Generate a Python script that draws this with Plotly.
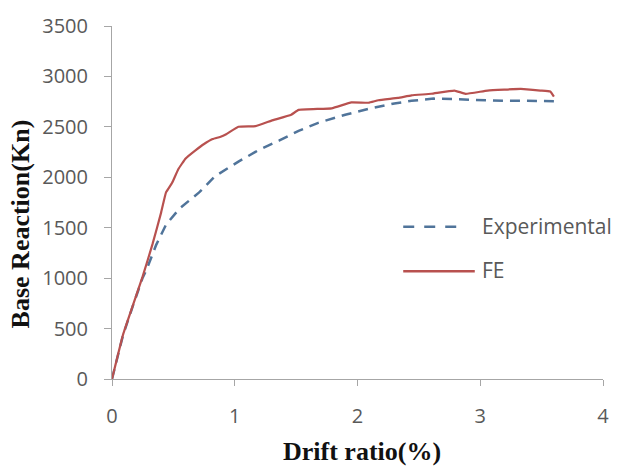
import plotly.graph_objects as go

# Drift ratio (%) vs base reaction (kN)
fe_drift = [0, 0.09, 0.17, 0.25, 0.33, 0.40, 0.44, 0.49, 0.54, 0.60, 0.68, 0.75, 0.82,
            0.88, 0.93, 1.03, 1.17, 1.30, 1.46, 1.52, 1.79, 1.95, 2.09, 2.17, 2.33, 2.44,
            2.60, 2.79, 2.88, 3.06, 3.33, 3.49, 3.57, 3.60]
fe_force = [0, 440, 730, 1017, 1337, 1650, 1850, 1946, 2080, 2187, 2267, 2330, 2379,
            2400, 2427, 2501, 2508, 2562, 2620, 2668, 2684, 2742, 2739, 2764, 2787, 2812,
            2828, 2860, 2828, 2860, 2876, 2860, 2850, 2800]

exp_drift = [0, 0.09, 0.17, 0.25, 0.28, 0.36, 0.44, 0.55, 0.71, 0.84, 1.03, 1.19, 1.36,
             1.52, 1.68, 1.90, 2.11, 2.30, 2.44, 2.62, 2.81, 2.98, 3.19, 3.38, 3.60]
exp_force = [0, 435, 725, 1005, 1080, 1330, 1530, 1690, 1850, 2011, 2155, 2267, 2363,
             2460, 2540, 2620, 2684, 2732, 2758, 2780, 2774, 2764, 2758, 2758, 2755]

x_ticks = [0, 1, 2, 3, 4]
y_ticks = [0, 500, 1000, 1500, 2000, 2500, 3000, 3500]

EXP_COLOR = "#50749a"
FE_COLOR = "#b8514f"
AXIS_COLOR = "#a6a6a6"
TICK_FONT = dict(family="Open Sans", size=20, color="#595959")
TITLE_FONT = dict(family="Liberation Serif", size=26, color="#111111")
LEGEND_FONT = dict(family="Open Sans", size=21, color="#595959")

W, H = 621, 469
L, R, T, B = 112, 15, 15, 90

fig = go.Figure()
fig.add_trace(go.Scatter(x=exp_drift, y=exp_force, mode="lines", name="Experimental",
                         line=dict(color=EXP_COLOR, width=2.5, dash="10px,7px")))
fig.add_trace(go.Scatter(x=fe_drift, y=fe_force, mode="lines", name="FE",
                         line=dict(color=FE_COLOR, width=2.2, shape="spline", smoothing=0.3)))


def px_x(p):
    return (p - L) / (W - L - R)


def px_y(p):
    return (H - B - p) / (H - T - B)


# Hand-built legend with long line samples
shapes = [
    dict(type="line", xref="paper", yref="paper", x0=px_x(405), x1=px_x(466),
         y0=px_y(222), y1=px_y(222), line=dict(color=EXP_COLOR, width=2.5, dash="11px,10px")),
    dict(type="line", xref="paper", yref="paper", x0=px_x(405), x1=px_x(477),
         y0=px_y(268), y1=px_y(268), line=dict(color=FE_COLOR, width=2.5)),
]
annotations = [
    dict(text="Experimental", xref="paper", yref="paper", x=px_x(482), y=px_y(221),
         xanchor="left", yanchor="middle", showarrow=False, font=LEGEND_FONT),
    dict(text="FE", xref="paper", yref="paper", x=px_x(482), y=px_y(267),
         xanchor="left", yanchor="middle", showarrow=False, font=LEGEND_FONT),
    dict(text="<b>Drift ratio(%)</b>", xref="paper", yref="paper", x=px_x(364), y=px_y(454),
         xanchor="center", yanchor="middle", showarrow=False, font=TITLE_FONT),
    dict(text="<b>Base Reaction(Kn)</b>", xref="paper", yref="paper", x=px_x(20), y=px_y(219),
         xanchor="center", yanchor="middle", showarrow=False, textangle=-90, font=TITLE_FONT),
]

fig.update_layout(
    width=W, height=H,
    margin=dict(l=L, r=R, t=T, b=B),
    paper_bgcolor="white", plot_bgcolor="white",
    showlegend=False,
    shapes=shapes, annotations=annotations,
)
fig.update_xaxes(range=[0, 4], tickvals=x_ticks, showgrid=False, zeroline=False,
                 showline=True, linecolor=AXIS_COLOR, linewidth=1,
                 ticks="outside", ticklen=6, tickcolor=AXIS_COLOR,
                 tickfont=TICK_FONT, ticklabelstandoff=13)
fig.update_yaxes(range=[0, 3500], tickvals=y_ticks, showgrid=False, zeroline=False,
                 showline=True, linecolor=AXIS_COLOR, linewidth=1,
                 ticks="outside", ticklen=7, tickcolor=AXIS_COLOR,
                 tickfont=TICK_FONT, ticklabelstandoff=12)

fig.write_html("out.html")
